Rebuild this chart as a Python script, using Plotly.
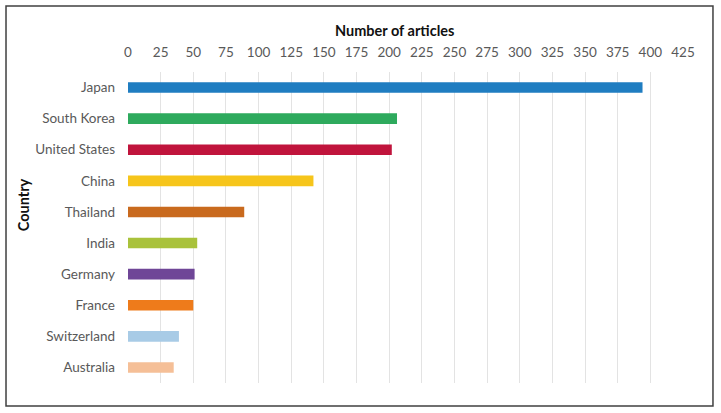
import plotly.graph_objects as go

countries = ["Japan", "South Korea", "United States", "China", "Thailand",
             "India", "Germany", "France", "Switzerland", "Australia"]
articles = [394, 206, 202, 142, 89, 53, 51, 50, 39, 35]
colors = ["#1F7DC1", "#2EAA5D", "#C0143C", "#F6C51B", "#C96A1E",
          "#A9C23B", "#6F4697", "#EE7B1B", "#A8CBE6", "#F5BF97"]
x_ticks = list(range(0, 426, 25))

fig = go.Figure(go.Bar(
    x=articles, y=countries, orientation="h",
    marker=dict(color=colors, line=dict(width=0)),
    width=0.34,
))

font_family = "Lato, 'Open Sans', sans-serif"

fig.update_layout(
    width=721, height=413,
    margin=dict(l=128, r=38, t=72, b=30),
    paper_bgcolor="white", plot_bgcolor="white",
    showlegend=False,
    font=dict(family=font_family, size=13, color="#595959"),
    xaxis=dict(
        side="top", range=[0, 425], tickvals=x_ticks,
        showgrid=True, gridcolor="#E3E3E3", gridwidth=1,
        zeroline=False, showline=False, ticks="",
        ticklabelstandoff=11, automargin=False,
        tickfont=dict(size=13.5, color="#595959"),
        fixedrange=True,
    ),
    yaxis=dict(
        categoryorder="array", categoryarray=countries[::-1],
        showgrid=False, zeroline=False, showline=False, ticks="",
        ticklabelstandoff=12, automargin=False,
        tickfont=dict(size=13.5, color="#595959"),
        fixedrange=True,
    ),
    annotations=[
        dict(text="<b>Number of articles</b>", showarrow=False,
             xref="paper", yref="paper", x=0.481, y=1.132,
             xanchor="center", yanchor="middle",
             font=dict(size=14.5, color="#111111")),
        dict(text="<b>Country</b>", textangle=-90, showarrow=False,
             xref="paper", yref="paper", x=-0.189, y=0.572,
             xanchor="center", yanchor="middle",
             font=dict(size=14.5, color="#111111")),
    ],
    shapes=[dict(
        type="rect", xref="paper", yref="paper",
        x0=-0.2198, x1=1.054, y0=-0.074, y1=1.2122,
        line=dict(color="#404040", width=1.5), fillcolor="rgba(0,0,0,0)",
        layer="below",
    )],
)

fig.write_html("out.html", config={"displayModeBar": False},
               post_script="document.body.style.margin='0';")
